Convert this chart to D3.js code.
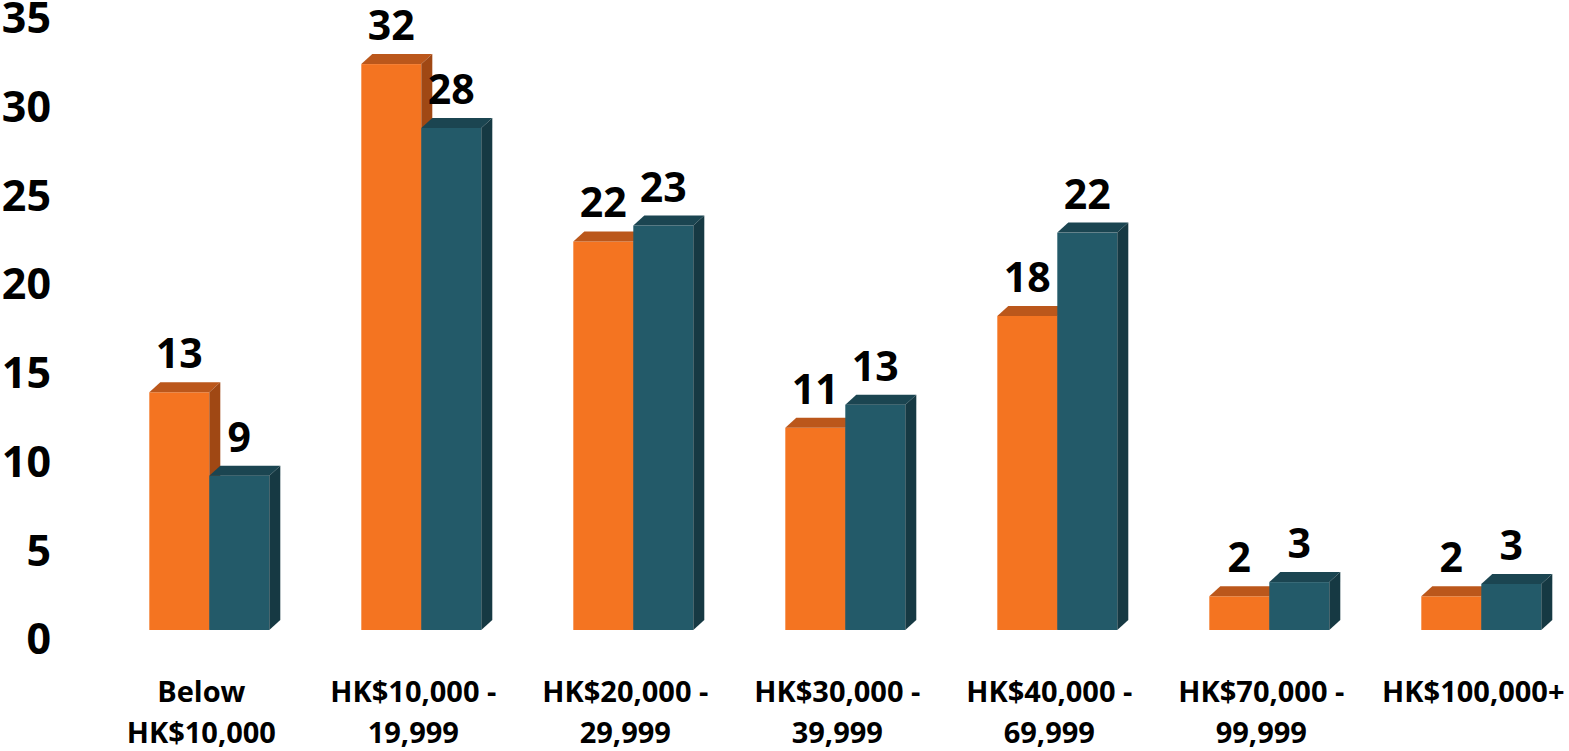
<!DOCTYPE html>
<html>
<head>
<meta charset="utf-8">
<script src="https://cdn.jsdelivr.net/npm/d3@7"></script>
<style>
  body { margin: 0; background: #fff; }
  svg text { font-family: "Open Sans", "Noto Sans", sans-serif; font-weight: 700; fill: #000; }
</style>
</head>
<body>
<svg id="chart" width="1569" height="751"></svg>
<script>
// categories (line-split labels) and the two series
const categories = ["Below HK$10,000", "HK$10,000 - 19,999", "HK$20,000 - 29,999",
  "HK$30,000 - 39,999", "HK$40,000 - 69,999", "HK$70,000 - 99,999", "HK$100,000+"];
const categoryLines = [
  ["Below", "HK$10,000"],
  ["HK$10,000 -", "19,999"],
  ["HK$20,000 -", "29,999"],
  ["HK$30,000 -", "39,999"],
  ["HK$40,000 -", "69,999"],
  ["HK$70,000 -", "99,999"],
  ["HK$100,000+"]
];
const seriesNames = ["a", "b"];
const seriesA = [13.4, 31.9, 21.9, 11.4, 17.7, 1.9, 1.9];
const seriesB = [8.7, 28.3, 22.8, 12.7, 22.4, 2.7, 2.6];
const yTicks = [0, 5, 10, 15, 20, 25, 30, 35];

const colors = {
  a: { front: "#f47421", top: "#bb571b", side: "#a04814" },
  b: { front: "#235a69", top: "#1b4551", side: "#163943" }
};

const depthX = 11, depthY = 10;

const svg = d3.select("#chart");

const x0 = d3.scaleBand()
  .domain(categories)
  .range([103.3, 103.3 + 212 * 7])
  .paddingInner(0.434)
  .paddingOuter(0.217);

const x1 = d3.scaleBand()
  .domain(seriesNames)
  .range([0, x0.bandwidth()]);

const y = d3.scaleLinear().domain([0, 35]).range([630, 630 - 35 * 17.74]);

// y axis, labels only
const yAxis = svg.append("g")
  .attr("transform", "translate(51,0)")
  .call(d3.axisLeft(y).tickValues(yTicks).tickSize(0).tickPadding(0));
yAxis.select(".domain").remove();
yAxis.selectAll("text")
  .attr("transform", "translate(0,10)")
  .style("font-size", "43px")
  .style("font-family", "\"Open Sans\", sans-serif")
  .style("font-weight", 700);

const rows = categories.map((c, i) => ({ cat: c, lines: categoryLines[i], a: seriesA[i], b: seriesB[i] }));

const groups = svg.append("g").selectAll("g")
  .data(rows).enter().append("g")
  .attr("transform", d => `translate(${x0(d.cat)},0)`);

seriesNames.forEach(s => {
  const bar = groups.append("g");
  const left = () => x1(s);
  const right = () => x1(s) + x1.bandwidth();

  bar.append("rect")
    .attr("x", left)
    .attr("y", d => y(d[s]))
    .attr("width", x1.bandwidth())
    .attr("height", d => y(0) - y(d[s]))
    .attr("fill", colors[s].front);

  bar.append("path")
    .attr("fill", colors[s].top)
    .attr("d", d => {
      const t = y(d[s]);
      return `M${left()},${t}L${left() + depthX},${t - depthY}L${right() + depthX},${t - depthY}L${right()},${t}Z`;
    });

  bar.append("path")
    .attr("fill", colors[s].side)
    .attr("d", d => {
      const t = y(d[s]), b = y(0);
      return `M${right()},${t}L${right() + depthX},${t - depthY}L${right() + depthX},${b - depthY}L${right()},${b}Z`;
    });
});

// value labels
seriesNames.forEach(s => {
  groups.append("text")
    .attr("x", x1(s) + x1.bandwidth() / 2)
    .attr("y", d => y(d[s]) - 24)
    .attr("text-anchor", "middle")
    .style("font-size", "41px")
    .text(d => Math.round(d[s]));
});

// category labels
groups.append("text")
  .attr("x", x0.bandwidth() / 2 - 8)
  .attr("y", 702)
  .attr("text-anchor", "middle")
  .style("font-size", "29px")
  .selectAll("tspan")
  .data(d => d.lines).enter().append("tspan")
  .attr("x", x0.bandwidth() / 2 - 8)
  .attr("dy", (d, i) => i === 0 ? 0 : 41)
  .text(d => d);
</script>
</body>
</html>
